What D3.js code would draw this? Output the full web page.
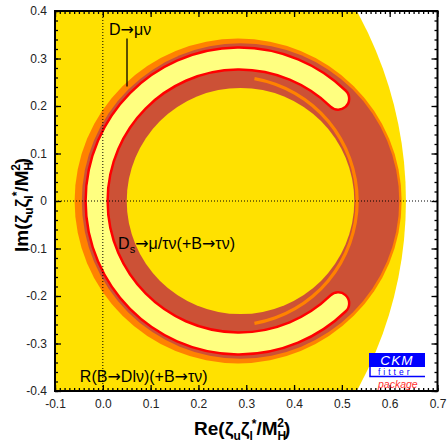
<!DOCTYPE html>
<html>
<head>
<script src="https://d3js.org/d3.v7.min.js"></script>
<style>
  body { margin: 0; background: #fff; }
  svg { display: block; font-family: "Liberation Sans", Arial, sans-serif; }
  .axis path { display: none; }
  .axis line { stroke: #000; stroke-width: 1.3; }
  .axis text { font-size: 12px; fill: #222; }
  .arr { font-family: "DejaVu Sans", sans-serif; }
</style>
</head>
<body>
<script>
const xTicks = [-0.1, 0, 0.1, 0.2, 0.3, 0.4, 0.5, 0.6, 0.7];
const yTicks = [-0.4, -0.3, -0.2, -0.1, 0, 0.1, 0.2, 0.3, 0.4];

// allowed regions, [centre x, centre y, radius] in axis units
const rbdRegion   = [-0.194, 0, 0.828];   // R(B->Dlnu)(+B->taunu), inside allowed
const dsOuter2sig = [0.283, 0, 0.342];
const dsOuter1sig = [0.288, 0, 0.332];
const dsInner1sig = [0.288, 0, 0.238];
const dsInnerLine = [0.272, 0, 0.260];    // thin orange contour inside the band
const dsInnerSpan = [-80, 80];            // degrees from +x, counter-clockwise
// D->mu nu crescent: centre x, centre y, inner radius, outer radius
const dmunuBand = [0.285, 0, 0.275, 0.321];
const dmunuSpan = [41.5, 318.5];          // opening on the right side

const width = 447, height = 443;
const x = d3.scaleLinear().domain([-0.1, 0.7]).range([55, 437.5]);
const y = d3.scaleLinear().domain([-0.4, 0.4]).range([391, 11]);

const yellow = '#ffe100', orange = '#ff8200', brown = '#cc5136', pale = '#ffff80';

const svg = d3.select('body').append('svg')
  .attr('width', width).attr('height', height);

svg.append('clipPath').attr('id', 'plot')
  .append('rect')
  .attr('x', x(-0.1)).attr('y', y(0.4))
  .attr('width', x(0.7) - x(-0.1)).attr('height', y(-0.4) - y(0.4));

const g = svg.append('g').attr('clip-path', 'url(#plot)');

function disc(c, fill) {
  g.append('ellipse')
    .attr('cx', x(c[0])).attr('cy', y(c[1]))
    .attr('rx', x(c[2]) - x(0)).attr('ry', y(0) - y(c[2]))
    .attr('fill', fill);
}

const deg = Math.PI / 180;
// d3.arc angles run clockwise from 12 o'clock
const toArc = a => (90 - a) * deg;

disc(rbdRegion, yellow);
disc(dsOuter2sig, orange);
disc(dsOuter1sig, brown);
disc(dsInner1sig, yellow);

const rLine = x(dsInnerLine[2]) - x(0);
g.append('path')
  .attr('transform', `translate(${x(dsInnerLine[0])},${y(dsInnerLine[1])})`)
  .attr('d', d3.arc()
    .innerRadius(rLine - 1.6).outerRadius(rLine + 1.6)
    .startAngle(toArc(dsInnerSpan[1])).endAngle(toArc(dsInnerSpan[0]))())
  .attr('fill', orange);

const rIn = x(dmunuBand[2]) - x(0), rOut = x(dmunuBand[3]) - x(0);
g.append('path')
  .attr('transform', `translate(${x(dmunuBand[0])},${y(dmunuBand[1])})`)
  .attr('d', d3.arc()
    .innerRadius(rIn).outerRadius(rOut)
    .startAngle(toArc(dmunuSpan[1]))
    .endAngle(toArc(dmunuSpan[0]))
    .cornerRadius((rOut - rIn) / 2)())
  .attr('fill', pale)
  .attr('stroke', '#ff0000')
  .attr('stroke-width', 2.5);

// dotted zero lines
g.append('line')
  .attr('x1', x(0)).attr('x2', x(0)).attr('y1', y(0.4)).attr('y2', y(-0.4))
  .attr('stroke', '#000').attr('stroke-dasharray', '1,2');
g.append('line')
  .attr('x1', x(-0.1)).attr('x2', x(0.7)).attr('y1', y(0)).attr('y2', y(0))
  .attr('stroke', '#000').attr('stroke-dasharray', '1,2');

// axes: minor and major ticks on all four sides, pointing inwards
const fmt = v => (Math.abs(v) < 1e-9 ? '0' : v.toFixed(1));
const fmtX = v => v.toFixed(1);

function axes(maker, scale, tr, values, fmtf) {
  svg.append('g').attr('class', 'axis').attr('transform', tr)
    .call(maker(scale).ticks(scale === x ? 80 : 40).tickSize(-3).tickFormat(''));
  svg.append('g').attr('class', 'axis').attr('transform', tr)
    .call(maker(scale).tickValues(values).tickSize(-6).tickPadding(8)
      .tickFormat(fmtf || ''));
}
axes(d3.axisBottom, x, `translate(0,${y(-0.4)})`, xTicks, fmtX);
axes(d3.axisTop, x, `translate(0,${y(0.4)})`, xTicks, null);
axes(d3.axisLeft, y, `translate(${x(-0.1)},0)`, yTicks, fmt);
axes(d3.axisRight, y, `translate(${x(0.7)},0)`, yTicks, null);

svg.append('rect')
  .attr('x', x(-0.1)).attr('y', y(0.4))
  .attr('width', x(0.7) - x(-0.1)).attr('height', y(-0.4) - y(0.4))
  .attr('fill', 'none').attr('stroke', '#000').attr('stroke-width', 2);

// rich text: [text, size, dx, dy, class]
function rich(sel, parts) {
  parts.forEach(p => {
    const t = sel.append('tspan').text(p[0]);
    if (p[1]) t.attr('font-size', p[1]);
    if (p[2]) t.attr('dx', p[2]);
    if (p[3]) t.attr('dy', p[3]);
    if (p[4]) t.attr('class', p[4]);
  });
  return sel;
}

rich(svg.append('text').attr('x', x(0.013)).attr('y', y(0.35)).attr('font-size', 16),
  [['D'], ['→', 16, 0, 0, 'arr'], ['μν']]);
svg.append('line')
  .attr('x1', x(0.0506)).attr('x2', x(0.0506))
  .attr('y1', y(0.342)).attr('y2', y(0.241))
  .attr('stroke', '#000').attr('stroke-width', 1.3);

rich(svg.append('text').attr('x', x(0.032)).attr('y', y(-0.102)).attr('font-size', 16),
  [['D'], ['s', 11, 0, 4], ['→', 16, 0, -4, 'arr'], ['μ/τν(+B'], ['→', 16, 0, 0, 'arr'], ['τν)']]);

rich(svg.append('text').attr('x', x(-0.048)).attr('y', y(-0.382)).attr('font-size', 16),
  [['R(B'], ['→', 16, 0, 0, 'arr'], ['Dlν)(+B'], ['→', 16, 0, 0, 'arr'], ['τν)']]);

// axis titles
const titleParts = [['ζ'], ['u', 12, 0, 5], ['ζ', 19, 0, -5], ['l', 12, 0, 5], ['*', 12, -1, -12],
  ['/M', 19, 0, 7], ['H', 12, 0, 5], ['2', 12, -9, -13], [')', 19, 0, 8]];
rich(svg.append('text').attr('x', 194).attr('y', 435)
  .attr('font-size', 19).attr('font-weight', 'bold'),
  [['Re(']].concat(titleParts));

rich(svg.append('text')
  .attr('transform', 'translate(28,252) rotate(-90)')
  .attr('font-size', 19).attr('font-weight', 'bold'),
  [['Im(']].concat(titleParts));

// CKMfitter logo
const logo = svg.append('g');
logo.append('rect').attr('x', 369).attr('y', 353).attr('width', 56).attr('height', 14)
  .attr('fill', '#0000ff');
logo.append('text').attr('x', 397).attr('y', 365).attr('text-anchor', 'middle')
  .attr('font-size', 13.5).attr('font-style', 'italic').attr('fill', '#fff')
  .attr('letter-spacing', 1.2).text('CKM');
logo.append('path').attr('d', 'M370,367V376.5H425').attr('fill', 'none')
  .attr('stroke', '#0000ff').attr('stroke-width', 1.5);
logo.append('text').attr('x', 378).attr('y', 375)
  .attr('font-size', 8.5).attr('fill', '#0000ff').attr('letter-spacing', 3).text('fitter');
logo.append('text').attr('x', 378).attr('y', 388)
  .attr('font-size', 10.5).attr('font-style', 'italic').attr('fill', '#ff3030').text('package');
</script>
</body>
</html>
